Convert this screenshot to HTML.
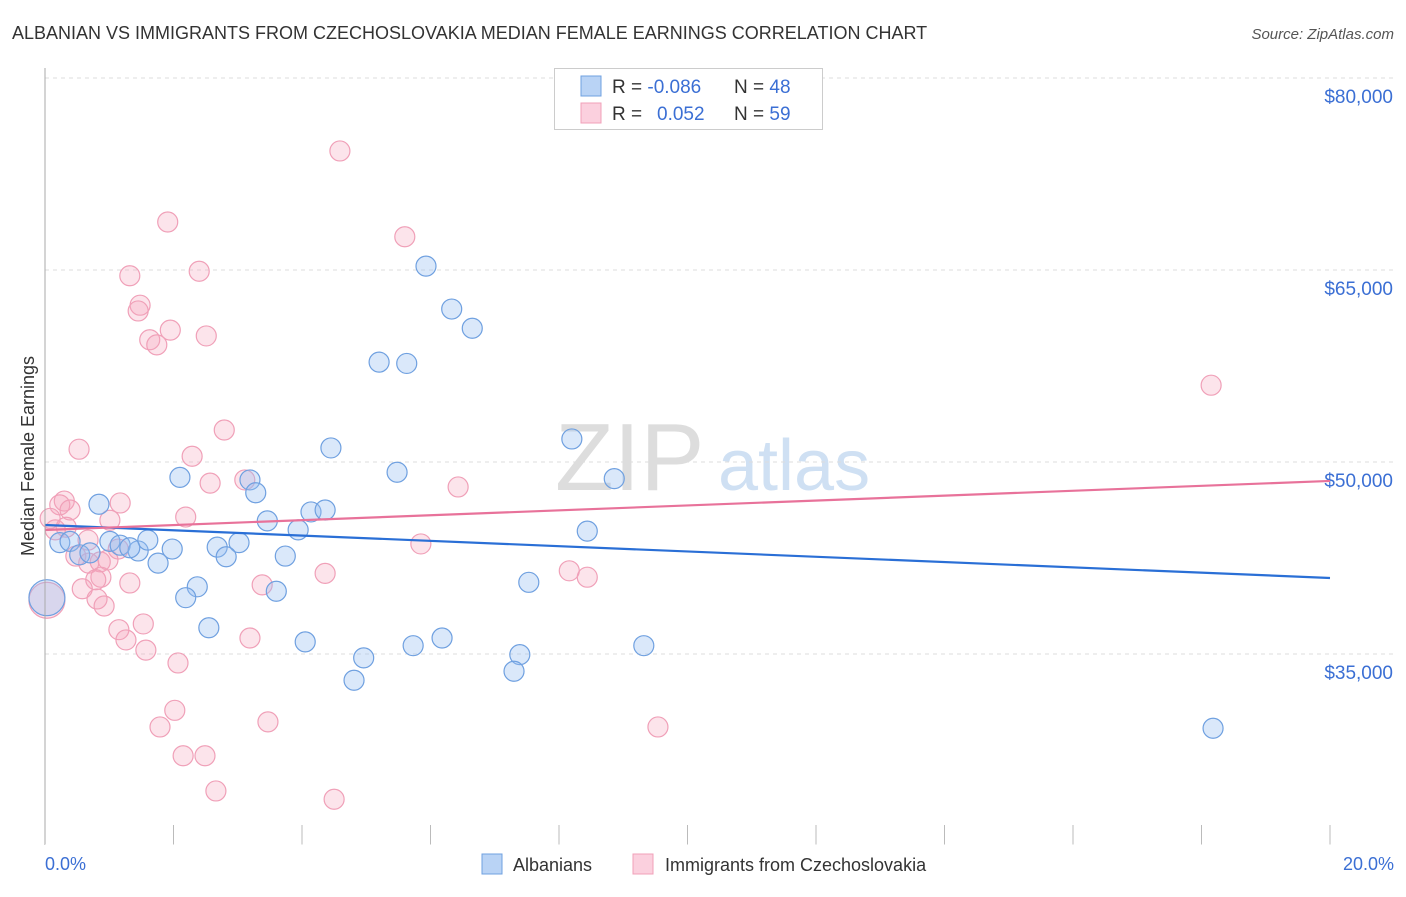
<!DOCTYPE html>
<html><head><meta charset="utf-8"><style>
body{margin:0;background:#fff;font-family:"Liberation Sans",sans-serif;}
svg text{font-family:"Liberation Sans",sans-serif;}
</style></head><body>
<svg id="c" width="1406" height="892">
<text x="12" y="39" font-size="18" fill="#333">ALBANIAN VS IMMIGRANTS FROM CZECHOSLOVAKIA MEDIAN FEMALE EARNINGS CORRELATION CHART</text>
<text x="1394" y="39" font-size="15" fill="#555" text-anchor="end" font-style="italic">Source: ZipAtlas.com</text>
<text x="555" y="490" font-size="96" fill="#ddd" font-family="Liberation Serif">ZIP</text>
<text x="718" y="490" font-size="72" fill="#cfe0f3">atlas</text>
<text transform="translate(34,456) rotate(-90)" font-size="18" fill="#333" text-anchor="middle">Median Female Earnings</text>
<g id="grid"></g><g id="pts"></g><g id="trend"></g>
<line x1="45" y1="68" x2="45" y2="845" stroke="#aaa"/>
<line x1="45" y1="845" x2="1394" y2="845" stroke="#fff" />
<text x="45" y="870" font-size="18" fill="#3b6fd4">0.0%</text>
<text x="1394" y="870" font-size="18" fill="#3b6fd4" text-anchor="end">20.0%</text>
<rect x="482" y="854" width="20" height="20" fill="#b9d3f5" stroke="#6fa0e0"/>
<text x="513" y="871" font-size="18" fill="#333">Albanians</text>
<rect x="633" y="854" width="20" height="20" fill="#fbd0de" stroke="#f0a0b8"/>
<text x="665" y="871" font-size="18" fill="#333">Immigrants from Czechoslovakia</text>
<g>
<rect x="554.5" y="68.5" width="268" height="61" fill="#fff" stroke="#ccc"/>
<rect x="581" y="76" width="20" height="20" fill="#b9d3f5" stroke="#6fa0e0"/>
<rect x="581" y="103" width="20" height="20" fill="#fbd0de" stroke="#f0a0b8"/>
<text x="612" y="93" font-size="19" fill="#333">R = <tspan fill="#3b6fd4">-0.086</tspan><tspan x="734">N = </tspan><tspan fill="#3b6fd4">48</tspan></text>
<text x="612" y="120" font-size="19" fill="#333">R = <tspan x="657" fill="#3b6fd4">0.052</tspan><tspan x="734">N = </tspan><tspan fill="#3b6fd4">59</tspan></text>
</g>
</svg>
<script>
const yTicks=[80000,65000,50000,35000];
const yTickLabels=["$80,000","$65,000","$50,000","$35,000"];
const xTicks=[0,2,4,6,8,10,12,14,16,18,20];
const blueX=[5.93,6.33,6.65,5.20,5.63,8.20,4.45,5.48,8.86,2.10,3.19,3.28,0.84,3.46,4.14,4.36,3.94,8.44,0.23,0.39,1.01,1.17,1.45,1.60,1.32,1.98,2.68,3.02,0.54,0.70,1.76,2.82,3.74,2.37,2.19,3.60,7.53,2.55,4.05,6.18,5.73,9.32,4.96,7.39,4.81,7.30,18.18,0.03];
const blueY=[65300,61950,60450,57800,57700,51800,51100,49200,48700,48800,48600,47600,46700,45400,46100,46250,44700,44600,43700,43800,43800,43500,43050,43900,43300,43200,43350,43700,42750,42900,42100,42600,42650,40250,39400,39900,40600,37050,35950,36250,35650,35650,34700,34950,32950,33650,29200,39400];
const blueR=[10,10,10,10,10,10,10,10,10,10,10,10,10,10,10,10,10,10,10,10,10,10,10,10,10,10,10,10,10,10,10,10,10,10,10,10,10,10,10,10,10,10,10,10,10,10,10,18];
const pinkX=[4.59,1.91,5.60,1.32,2.40,1.48,1.45,1.95,2.51,1.63,1.74,2.79,0.53,2.29,18.15,3.11,2.57,6.43,0.30,0.23,1.17,0.39,2.19,1.01,0.16,0.08,0.33,5.85,0.67,1.14,0.48,0.86,0.68,0.98,8.16,8.44,4.36,0.87,0.79,3.38,1.32,0.58,0.81,0.92,1.53,1.15,1.26,3.19,1.57,2.07,2.02,1.79,3.47,9.54,2.15,2.49,2.66,4.50,0.03];
const pinkY=[74300,68750,67600,64550,64900,62250,61800,60300,59850,59550,59150,52500,51000,50450,56000,48600,48350,48050,46950,46650,46800,46250,45700,45450,44700,45600,44900,43600,43900,43200,42650,42200,42100,42350,41500,41000,41300,41000,40800,40400,40550,40100,39300,38750,37350,36900,36100,36250,35300,34300,30600,29300,29700,29300,27050,27050,24300,23650,39200];
const blueTrend=[45080,40940];
const pinkTrend=[44690,48520];
const NS="http://www.w3.org/2000/svg";
const xs=v=>45+v/20*1285;
const ys=v=>78+(80000-v)*0.0128;
function mk(tag,attrs,parent){const e=document.createElementNS(NS,tag);for(const k in attrs)e.setAttribute(k,attrs[k]);document.getElementById(parent).appendChild(e);return e;}
yTicks.forEach((t,i)=>{
 const l=mk('line',{x1:45,x2:1394,y1:ys(t),y2:ys(t),stroke:'#ddd','stroke-dasharray':'4,4'},'grid');
 
 
 const tx=mk('text',{x:1393,y:ys(t)+25,'font-size':19,fill:'#3b6fd4','text-anchor':'end'},'grid');
 tx.textContent=yTickLabels[i];
 
 
});
xTicks.forEach(t=>{
 const l=mk('line',{x1:xs(t),x2:xs(t),y1:825,y2:845,stroke:'#bbb'},'grid');
 
 
});
pinkX.forEach((x,i)=>{
 const c=mk('circle',{cx:xs(x),cy:ys(pinkY[i]),r:i==pinkX.length-1?18:10,fill:'rgba(245,165,190,0.3)',stroke:'#f0a0b8','stroke-width':1.2},'pts');
 
 
});
blueX.forEach((x,i)=>{
 const c=mk('circle',{cx:xs(x),cy:ys(blueY[i]),r:blueR[i],fill:'rgba(150,190,240,0.35)',stroke:'#6fa0e0','stroke-width':1.2},'pts');
 
 
});
const bl=mk('line',{x1:xs(0),x2:xs(20),y1:ys(blueTrend[0]),y2:ys(blueTrend[1]),stroke:'#2a6fd6','stroke-width':2.2},'trend');


const pl=mk('line',{x1:xs(0),x2:xs(20),y1:ys(pinkTrend[0]),y2:ys(pinkTrend[1]),stroke:'#e8729a','stroke-width':2.2},'trend');


</script>
</body></html>
